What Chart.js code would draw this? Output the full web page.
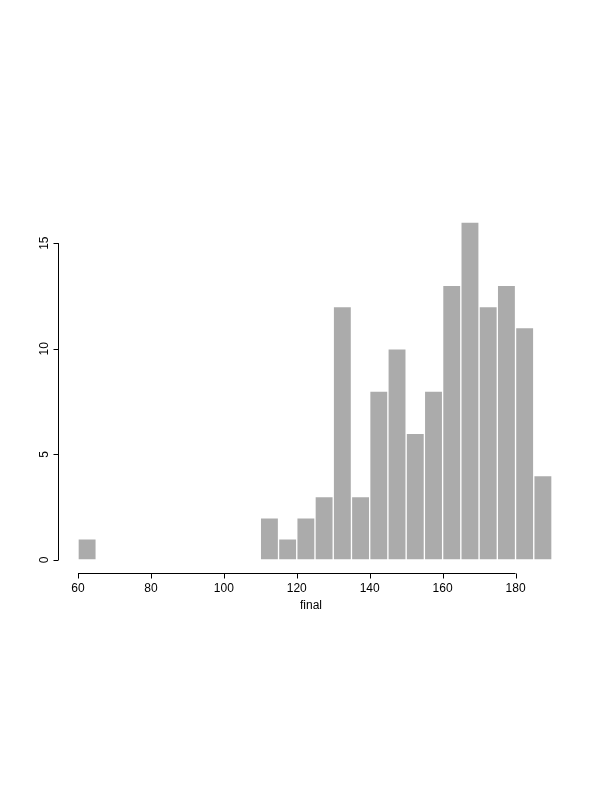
<!DOCTYPE html>
<html>
<head>
<meta charset="utf-8">
<script src="https://cdn.jsdelivr.net/npm/chart.js@4/dist/chart.umd.min.js"></script>
<style>
  html, body { margin: 0; padding: 0; background: #fff; }
  #wrap { width: 612px; height: 792px; }
</style>
</head>
<body>
<div id="wrap"><canvas id="myChart" width="612" height="792"></canvas></div>
<script>
// histogram bins (width 5) and counts
const binStarts = [60, 65, 70, 75, 80, 85, 90, 95, 100, 105, 110, 115, 120, 125,
                   130, 135, 140, 145, 150, 155, 160, 165, 170, 175, 180, 185];
const counts = [1, 0, 0, 0, 0, 0, 0, 0, 0, 0, 2, 1, 2, 3,
                12, 3, 8, 10, 6, 8, 13, 16, 12, 13, 11, 4];
const xTicks = [60, 80, 100, 120, 140, 160, 180];
const yTicks = [0, 5, 10, 15];
const binWidth = 5;

const font = '12px "Liberation Sans", Arial, sans-serif';

// draws R-style detached axes from the chart scales
const axesPlugin = {
    id: 'rAxes',
    afterDraw(chart) {
        const ctx = chart.ctx;
        const xs = chart.scales.x;
        const ys = chart.scales.y;
        ctx.save();
        ctx.strokeStyle = '#000';
        ctx.fillStyle = '#000';
        ctx.lineWidth = 1;
        ctx.font = font;

        // y axis
        const ax = 58.5;
        ctx.beginPath();
        ctx.moveTo(ax, ys.getPixelForValue(yTicks[0]));
        ctx.lineTo(ax, ys.getPixelForValue(yTicks[yTicks.length - 1]));
        yTicks.forEach(function (t) {
            const py = Math.round(ys.getPixelForValue(t)) + 0.5;
            ctx.moveTo(ax, py);
            ctx.lineTo(ax - 5, py);
        });
        ctx.stroke();
        ctx.textAlign = 'center';
        ctx.textBaseline = 'middle';
        yTicks.forEach(function (t) {
            const py = ys.getPixelForValue(t);
            ctx.save();
            ctx.translate(45, py);
            ctx.rotate(-Math.PI / 2);
            ctx.fillText(String(t), 0, 0);
            ctx.restore();
        });

        // x axis
        const ay = 573.5;
        ctx.beginPath();
        ctx.moveTo(xs.getPixelForValue(xTicks[0]), ay);
        ctx.lineTo(xs.getPixelForValue(xTicks[xTicks.length - 1]), ay);
        xTicks.forEach(function (t) {
            const px = Math.round(xs.getPixelForValue(t)) + 0.5;
            ctx.moveTo(px, ay);
            ctx.lineTo(px, ay + 5);
        });
        ctx.stroke();
        xTicks.forEach(function (t) {
            ctx.fillText(String(t), xs.getPixelForValue(t), 589);
        });
        ctx.fillText('final', (xs.left + xs.right) / 2 - 4, 606);
        ctx.restore();
    }
};

function initializeChart() {
    const ctx = document.getElementById('myChart').getContext('2d');
    const points = binStarts.map(function (b, i) {
        return { x: b + binWidth / 2, y: counts[i] };
    });

    new Chart(ctx, {
        type: 'bar',
        data: {
            datasets: [{
                label: 'final',
                data: points,
                backgroundColor: '#ababab',
                borderColor: '#ffffff',
                borderWidth: 1,
                borderSkipped: false,
                barPercentage: 1,
                categoryPercentage: 1
            }]
        },
        options: {
            responsive: false,
            animation: false,
            layout: { padding: { left: 78, right: 60, top: 222, bottom: 232 } },
            plugins: { legend: { display: false }, tooltip: { enabled: false } },
            scales: {
                x: { type: 'linear', min: 60, max: 190, display: false, offset: false },
                y: { min: 0, max: 16, display: false }
            }
        },
        plugins: [axesPlugin]
    });
}

initializeChart();
</script>
</body>
</html>
